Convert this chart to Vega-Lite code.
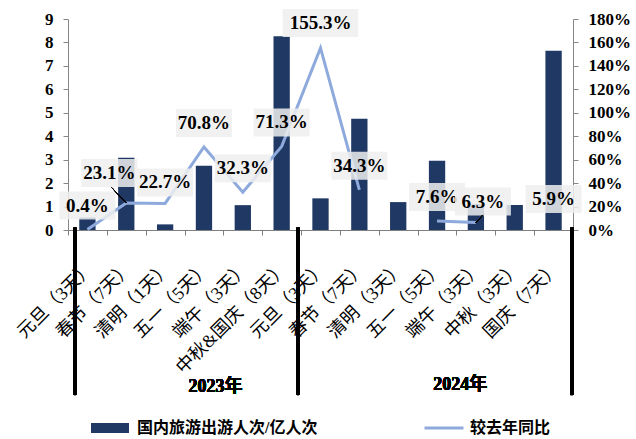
{
  "$schema": "https://vega.github.io/schema/vega-lite/v6.json",
  "width": 505,
  "height": 211,
  "autosize": {"type": "none"},
  "padding": {"left": 68, "top": 19, "right": 63, "bottom": 209},
  "config": {
    "view": {"stroke": null},
    "font": "Liberation Serif, Noto Sans CJK SC",
    "axis": {"grid": false, "labelFont": "Liberation Serif, Noto Sans CJK SC"},
    "text": {"font": "Liberation Serif, Noto Sans CJK SC"},
    "legend": {"padding": 0, "labelFont": "Liberation Serif, Noto Sans CJK SC"}
  },
  "data": {
    "values": [
      {"id": "2023 元旦（3天）", "visitors": 0.53, "pct": 0.004},
      {"id": "2023 春节（7天）", "visitors": 3.08, "pct": 0.231},
      {"id": "2023 清明（1天）", "visitors": 0.24, "pct": 0.227},
      {"id": "2023 五一（5天）", "visitors": 2.74, "pct": 0.708},
      {"id": "2023 端午（3天）", "visitors": 1.06, "pct": 0.323},
      {"id": "2023 中秋&国庆（8天）", "visitors": 8.26, "pct": 0.713},
      {"id": "2024 元旦（3天）", "visitors": 1.35, "pct": 1.553},
      {"id": "2024 春节（7天）", "visitors": 4.74, "pct": 0.343},
      {"id": "2024 清明（3天）", "visitors": 1.19, "pct": null},
      {"id": "2024 五一（5天）", "visitors": 2.95, "pct": 0.076},
      {"id": "2024 端午（3天）", "visitors": 1.10, "pct": 0.063},
      {"id": "2024 中秋（3天）", "visitors": 1.07, "pct": null},
      {"id": "2024 国庆（7天）", "visitors": 7.65, "pct": 0.059}
    ]
  },
  "layer": [
    {
      "layer": [
        {
          "mark": {"type": "bar", "width": {"band": 0.42}},
          "encoding": {
            "x": {
              "field": "id", "type": "nominal", "sort": null,
              "scale": {"paddingInner": 0, "paddingOuter": 0},
              "axis": {
                "title": null, "labelAngle": -45,
                "labelAlign": "right", "labelBaseline": "middle",
                "labelExpr": "slice(datum.label, 5)",
                "labelFontSize": 18, "labelColor": "black",
                "tickBand": "extent", "tickSize": 5,
                "domainColor": "#7f7f7f", "tickColor": "#7f7f7f",
                "labelPadding": 30, "labelOffset": 3, "labelOverlap": false, "labelBound": false
              }
            },
            "y": {
              "field": "visitors", "type": "quantitative",
              "scale": {"domain": [0, 9], "nice": false},
              "axis": {
                "title": null, "values": [0, 1, 2, 3, 4, 5, 6, 7, 8, 9],
                "labelFontSize": 17, "labelFontWeight": "bold", "labelColor": "black",
                "domainColor": "#868686", "tickColor": "#868686", "tickSize": 5,
                "labelPadding": 10
              }
            },
            "color": {
              "datum": "国内旅游出游人次/亿人次",
              "scale": {"range": ["#203864"]},
              "legend": {
                "orient": "none", "legendX": 22, "legendY": 389, "title": null,
                "symbolType": "M-1,-0.26H1V0.26H-1Z", "symbolSize": 1444,
                "labelFontSize": 16, "labelFontWeight": "bold", "labelColor": "black",
                "labelOffset": 7, "labelLimit": 400
              }
            }
          }
        },
        {
          "mark": {"type": "rule", "strokeWidth": 3, "color": "black"},
          "encoding": {
            "x": {"datum": "2023 元旦（3天）", "type": "nominal", "bandPosition": 0.18},
            "y": {"datum": 0.1, "type": "quantitative",
              "axis": {
                "title": null, "values": [0, 1, 2, 3, 4, 5, 6, 7, 8, 9],
                "labelFontSize": 17, "labelFontWeight": "bold", "labelColor": "black",
                "domainColor": "#868686", "tickColor": "#868686", "tickSize": 5,
                "labelPadding": 10
              }},
            "y2": {"datum": -7.04}
          }
        },
        {
          "mark": {"type": "rule", "strokeWidth": 3, "color": "black"},
          "encoding": {
            "x": {"datum": "2023 中秋&国庆（8天）", "type": "nominal", "bandPosition": 0.92},
            "y": {"datum": 0.1, "type": "quantitative",
              "axis": {
                "title": null, "values": [0, 1, 2, 3, 4, 5, 6, 7, 8, 9],
                "labelFontSize": 17, "labelFontWeight": "bold", "labelColor": "black",
                "domainColor": "#868686", "tickColor": "#868686", "tickSize": 5,
                "labelPadding": 10
              }},
            "y2": {"datum": -7.04}
          }
        },
        {
          "mark": {"type": "rule", "strokeWidth": 3, "color": "black"},
          "encoding": {
            "x": {"datum": "2024 国庆（7天）", "type": "nominal", "bandPosition": 0.97},
            "y": {"datum": 0.1, "type": "quantitative",
              "axis": {
                "title": null, "values": [0, 1, 2, 3, 4, 5, 6, 7, 8, 9],
                "labelFontSize": 17, "labelFontWeight": "bold", "labelColor": "black",
                "domainColor": "#868686", "tickColor": "#868686", "tickSize": 5,
                "labelPadding": 10
              }},
            "y2": {"datum": -7.04}
          }
        },
        {
          "mark": {"type": "text", "text": "2023年", "fontSize": 18, "fontWeight": "bold", "color": "black", "baseline": "middle"},
          "encoding": {
            "x": {"datum": "2023 五一（5天）", "type": "nominal", "bandPosition": 0.8},
            "y": {"datum": -6.7, "type": "quantitative",
              "axis": {
                "title": null, "values": [0, 1, 2, 3, 4, 5, 6, 7, 8, 9],
                "labelFontSize": 17, "labelFontWeight": "bold", "labelColor": "black",
                "domainColor": "#868686", "tickColor": "#868686", "tickSize": 5,
                "labelPadding": 10
              }}
          }
        },
        {
          "mark": {"type": "text", "text": "2024年", "fontSize": 18, "fontWeight": "bold", "color": "black", "baseline": "middle"},
          "encoding": {
            "x": {"datum": "2024 端午（3天）", "type": "nominal", "bandPosition": 0.1},
            "y": {"datum": -6.6, "type": "quantitative",
              "axis": {
                "title": null, "values": [0, 1, 2, 3, 4, 5, 6, 7, 8, 9],
                "labelFontSize": 17, "labelFontWeight": "bold", "labelColor": "black",
                "domainColor": "#868686", "tickColor": "#868686", "tickSize": 5,
                "labelPadding": 10
              }}
          }
        }
      ]
    },
    {
      "encoding": {
        "x": {"field": "id", "type": "nominal", "sort": null},
        "y": {
          "field": "pct", "type": "quantitative",
          "scale": {"domain": [0, 1.8], "nice": false},
          "axis": {
            "title": null, "orient": "right", "format": ".0%",
            "values": [0, 0.2, 0.4, 0.6, 0.8, 1.0, 1.2, 1.4, 1.6, 1.8],
            "labelFontSize": 17, "labelFontWeight": "bold", "labelColor": "black",
            "domainColor": "#868686", "tickColor": "#868686", "tickSize": 5,
            "labelPadding": 10
          }
        }
      },
      "layer": [
        {
          "mark": {"type": "line", "strokeWidth": 3, "invalid": "break-paths-show-domains"},
          "encoding": {
            "stroke": {
              "datum": "较去年同比",
              "scale": {"range": ["#8eaadc"]},
              "legend": {
                "orient": "none", "legendX": 355, "legendY": 388, "title": null,
                "symbolType": "stroke", "symbolSize": 1521, "symbolStrokeWidth": 3,
                "labelFontSize": 16, "labelFontWeight": "bold", "labelColor": "black",
                "labelOffset": 5, "labelLimit": 400
              }
            }
          }
        },
        {
          "transform": [{"filter": "datum.pct != null && datum.pct != 0.231 && datum.pct != 0.063 && datum.pct != 0.227 && datum.pct != 1.553"}],
          "layer": [
            {"mark": {"type": "point", "shape": "M-1,-0.5H1V0.5H-1Z", "size": 3136, "filled": true, "color": "#eeeeee", "opacity": 0.85, "yOffset": -24}},
            {"mark": {"type": "text", "fontSize": 19, "fontWeight": "bold", "color": "black", "yOffset": -24, "baseline": "middle"}, "encoding": {"text": {"field": "pct", "format": ".1%"}}}
          ]
        },
        {
          "transform": [{"filter": "datum.pct == 1.553"}],
          "layer": [
            {"mark": {"type": "point", "shape": "M-1.35,-0.5H1.35V0.5H-1.35Z", "size": 3136, "filled": true, "color": "#eeeeee", "opacity": 0.85, "yOffset": -25}},
            {"mark": {"type": "text", "fontSize": 19, "fontWeight": "bold", "color": "black", "yOffset": -25, "baseline": "middle"}, "encoding": {"text": {"field": "pct", "format": ".1%"}}}
          ]
        },
        {
          "transform": [{"filter": "datum.pct == 0.231"}],
          "layer": [
            {"mark": {"type": "point", "shape": "M-1,-0.5H1V0.5H-1Z", "size": 3136, "filled": true, "color": "#eeeeee", "opacity": 0.85, "xOffset": -17, "yOffset": -30}},
            {"mark": {"type": "text", "fontSize": 19, "fontWeight": "bold", "color": "black", "xOffset": -17, "yOffset": -30, "baseline": "middle"}, "encoding": {"text": {"field": "pct", "format": ".1%"}}}
          ]
        },
        {
          "transform": [{"filter": "datum.pct == 0.227"}],
          "layer": [
            {"mark": {"type": "point", "shape": "M-1,-0.5H1V0.5H-1Z", "size": 3136, "filled": true, "color": "#eeeeee", "opacity": 0.85, "yOffset": -21}},
            {"mark": {"type": "text", "fontSize": 19, "fontWeight": "bold", "color": "black", "yOffset": -21, "baseline": "middle"}, "encoding": {"text": {"field": "pct", "format": ".1%"}}}
          ]
        },
        {
          "transform": [{"filter": "datum.pct == 0.063"}],
          "layer": [
            {"mark": {"type": "point", "shape": "M-1,-0.5H1V0.5H-1Z", "size": 3136, "filled": true, "color": "#eeeeee", "opacity": 0.85, "xOffset": 7, "yOffset": -21}},
            {"mark": {"type": "text", "fontSize": 19, "fontWeight": "bold", "color": "black", "xOffset": 7, "yOffset": -21, "baseline": "middle"}, "encoding": {"text": {"field": "pct", "format": ".1%"}}}
          ]
        },
        {
          "mark": {"type": "rule", "strokeWidth": 1, "color": "black"},
          "encoding": {
            "x": {"datum": "2023 春节（7天）", "type": "nominal", "bandPosition": 0.5},
            "x2": {"datum": "2023 春节（7天）", "bandPosition": 0.13},
            "y": {"datum": 0.231, "type": "quantitative"},
            "y2": {"datum": 0.36}
          }
        },
        {
          "mark": {"type": "rule", "strokeWidth": 1, "color": "black"},
          "encoding": {
            "x": {"datum": "2024 端午（3天）", "type": "nominal", "bandPosition": 0.5},
            "x2": {"datum": "2024 端午（3天）", "bandPosition": 0.68},
            "y": {"datum": 0.063, "type": "quantitative"},
            "y2": {"datum": 0.128}
          }
        }
      ]
    }
  ],
  "resolve": {"scale": {"y": "independent"}}
}
